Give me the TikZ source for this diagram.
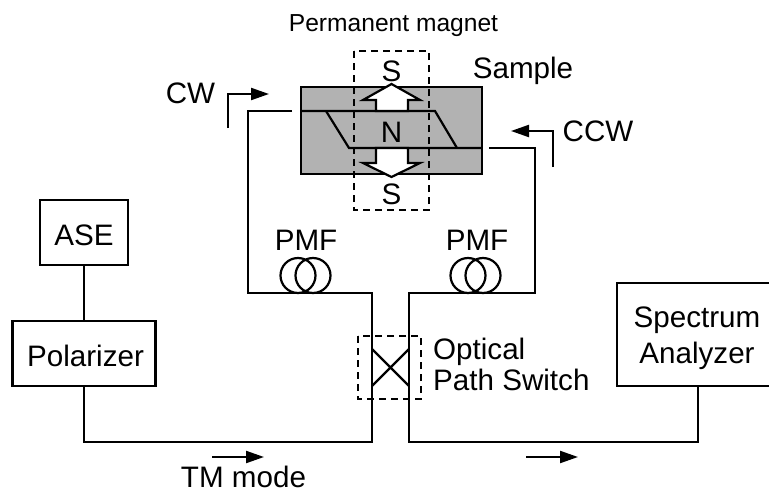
\documentclass[tikz,border=0pt]{standalone}
\usepackage{fontspec}
\setmainfont{Liberation Sans}
\usetikzlibrary{arrows.meta}
\tikzset{
  x=1pt,y=-1pt,
  lineart/.style={line width=2.2pt,black,line join=miter},
  boxx/.style={draw,line width=2.2pt,inner sep=0pt,outer sep=0pt,minimum width=#1},
  txt/.style={inner sep=0pt,font=\fontsize{29.6}{35}\selectfont},
  small/.style={inner sep=0pt,font=\fontsize{24.6}{29}\selectfont},
  dir/.style={line width=2.2pt,-{Triangle[length=18pt,width=12pt]}},
  dashbox/.style={line width=2.2pt,dash pattern=on 7pt off 5pt},
  coil/.style={line width=2.2pt},
  hollow/.style={line width=2.2pt,fill=white,line join=miter}
}
\definecolor{samplegray}{HTML}{B2B2B2}
\begin{document}
\begin{tikzpicture}
\useasboundingbox (0,0) rectangle (769,493);
% sample
\draw[lineart,fill=samplegray] (300.7,86.7) rectangle (482,174);
\draw[lineart] (300.7,111) -- (435,111) -- (457,148);
\draw[lineart] (326,111) -- (349,148) -- (482,148);
% boxes
\node[boxx=88pt,minimum height=65pt] (ase) at (84,232.5) {};
\node[boxx=143pt,minimum height=65pt] (pol) at (84,353.5) {};
\node[boxx=154pt,minimum height=103pt] (spec) at (694,334.5) {};
\node[txt] (asel) at (84,235.5) {ASE};
\node[txt] (poll) at (85.5,355.5) {Polarizer};
\node[txt] (specl) at (697,320) {Spectrum};
\node[txt] (anal) at (697,356) {Analyzer};
% fibres
\coordinate (lend) at (292,111);
\coordinate (rend) at (489,148);
\draw[lineart] (ase.south) -- (pol.north);
\draw[lineart] (lend) -- (248,111) -- (248,293) -- (372,293) -- (372,442) -- (84,442) -- (pol.south);
\draw[lineart] (rend) -- (535,148) -- (535,293) -- (409,293) -- (409,442) -- (698,442) -- (698,386);
% coils
\draw[coil] (298,275.5) circle (17.5) (313,275.5) circle (17.5);
\draw[coil] (468,275.5) circle (17.5) (483,275.5) circle (17.5);
% switch
\draw[lineart] (372,349) -- (409,386) (372,386) -- (409,349);
\draw[dashbox] (358,336) rectangle (421,399);
% magnet
\draw[dashbox] (354,51) rectangle (429,210);
\draw[hollow] (376,111) -- (376,100) -- (363,100) -- (391.5,84) -- (420,100) -- (408,100) -- (408,111) -- cycle;
\draw[hollow] (376,148) -- (376,163) -- (363,163) -- (391.5,177) -- (420,163) -- (408,163) -- (408,148) -- cycle;
\node[txt] (s1) at (391.5,71) {S};
\node[txt] (n) at (391.5,132) {N};
\node[txt] (s2) at (391.5,194) {S};
% direction arrows
\coordinate (cw0) at (228,128);
\coordinate (cw1) at (269,94);
\draw[dir] (cw0) -- (228,94) -- (cw1);
\coordinate (ccw0) at (553,167);
\coordinate (ccw1) at (511,131);
\draw[dir] (ccw0) -- (553,131) -- (ccw1);
\coordinate (tm0) at (212,457);
\coordinate (tm1) at (264,457);
\draw[dir] (tm0) -- (tm1);
\coordinate (out0) at (526,457);
\coordinate (out1) at (578,457);
\draw[dir] (out0) -- (out1);
% labels
\node[small] (pm) at (393.5,26) {Permanent magnet};
\node[txt] (cw) at (190.5,93) {CW};
\node[txt] (sam) at (523,71) {Sample};
\node[txt] (ccw) at (598,131.5) {CCW};
\node[txt] (pmf1) at (306,240.5) {PMF};
\node[txt] (pmf2) at (477,240.5) {PMF};
\node[txt,anchor=west] (op) at (433,352) {Optical};
\node[txt,anchor=west] (ps) at (433,380) {Path Switch};
\node[txt] (tm) at (243.5,476.5) {TM mode};
\end{tikzpicture}
\end{document}
